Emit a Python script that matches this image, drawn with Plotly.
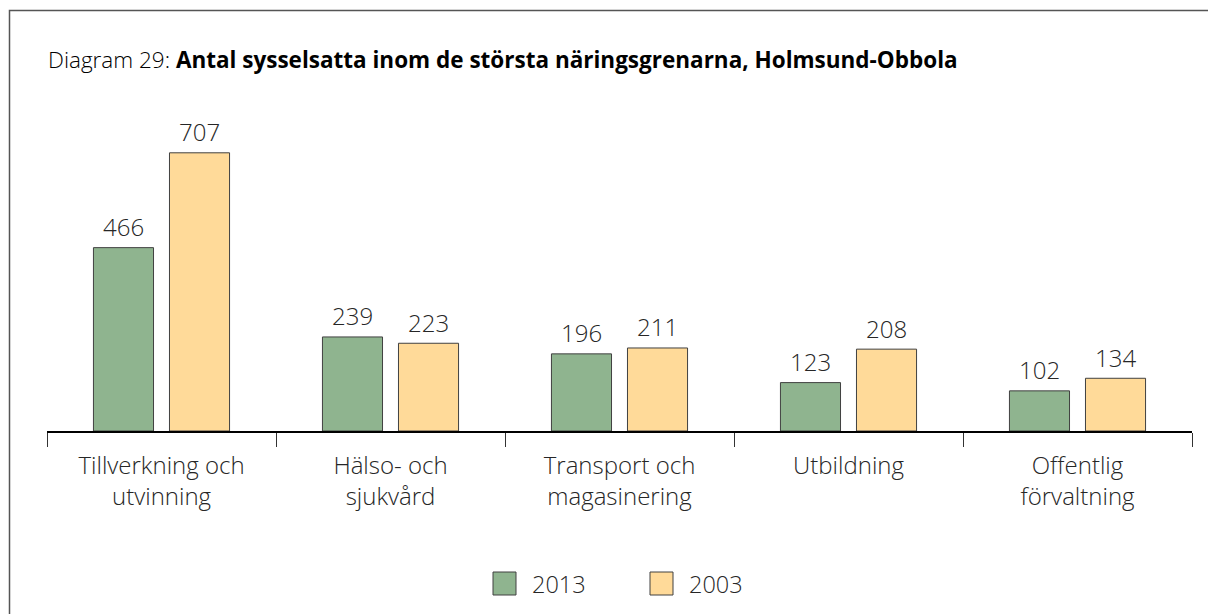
import plotly.graph_objects as go

categories = ["Tillverkning och<br>utvinning", "Hälso- och<br>sjukvård", "Transport och<br>magasinering",
              "Utbildning", "Offentlig<br>förvaltning"]
series_names = ["2013", "2003"]
values_2013 = [466, 239, 196, 123, 102]
values_2003 = [707, 223, 211, 208, 134]
colors = ["#8FB48F", "#FFDA99"]
title_prefix = "Diagram 29: "
title_main = "Antal sysselsatta inom de största näringsgrenarna, Holmsund-Obbola"

W, H = 1208, 614
L, R, T, B = 47, 16, 100, 183
pw, ph = W - L - R, H - T - B

def px_to_paper_x(x):
    return (x - L) / pw

def px_to_paper_y(y):
    return (H - B - y) / ph

FONT = "Open Sans"
TXT = "#262626"
FS = 24

fig = go.Figure()
for name, vals, col in zip(series_names, [values_2013, values_2003], colors):
    fig.add_trace(go.Bar(
        x=categories, y=vals, name=name,
        marker=dict(color=col, line=dict(color="#404040", width=1)),
        cliponaxis=False, showlegend=False,
    ))

# data labels, positioned on the data scales
for vals, xs in zip([values_2013, values_2003], [-38, 38]):
    for c, v in zip(categories, vals):
        fig.add_annotation(x=c, y=v, xref="x", yref="y", xshift=xs, yshift=21,
                           yanchor="middle", showarrow=False, text=str(v),
                           font=dict(family=FONT, size=FS, color=TXT, weight=300))

fig.update_layout(
    width=W, height=H,
    margin=dict(l=L, r=R, t=T, b=B, autoexpand=False),
    paper_bgcolor="white", plot_bgcolor="white",
    barmode="group", bargap=0.336, bargroupgap=0.21,
    font=dict(family=FONT, size=FS, color=TXT),
    xaxis=dict(
        type="category", showline=True, linecolor="black", linewidth=2,
        ticks="outside", tickson="boundaries", ticklen=14, tickcolor="#333",
        tickwidth=1, tickfont=dict(family=FONT, size=FS, color=TXT, weight=300),
        ticklabelstandoff=12,
        showgrid=False, zeroline=False,
    ),
    yaxis=dict(range=[0, ph / 0.3935], visible=False, showgrid=False, zeroline=False),
    showlegend=False,
)

# frame
fig.add_shape(type="rect", xref="paper", yref="paper",
              x0=px_to_paper_x(9.5), x1=px_to_paper_x(1230), y0=px_to_paper_y(640), y1=px_to_paper_y(10.5),
              line=dict(color="#555", width=1.5), fillcolor="rgba(0,0,0,0)", layer="below")

# title
fig.add_annotation(xref="paper", yref="paper", x=px_to_paper_x(46), y=px_to_paper_y(60),
                   xanchor="left", yanchor="middle", showarrow=False,
                   text='<span style="font-weight:300">' + title_prefix + "</span><b>" + title_main + "</b>",
                   font=dict(family=FONT, size=22.5, color="black"))

# legend
leg_x = [493, 650]
for name, col, x in zip(series_names, colors, leg_x):
    fig.add_shape(type="rect", xref="paper", yref="paper",
                  x0=px_to_paper_x(x), x1=px_to_paper_x(x + 23),
                  y0=px_to_paper_y(595), y1=px_to_paper_y(572),
                  fillcolor=col, line=dict(color="#404040", width=1))
    fig.add_annotation(xref="paper", yref="paper", x=px_to_paper_x(x + 37), y=px_to_paper_y(584),
                       xanchor="left", yanchor="middle", showarrow=False, text=name,
                       font=dict(family=FONT, size=23.5, color=TXT, weight=300))

fig.write_html("out.html", config={"displayModeBar": False},
               post_script="document.body.style.margin='0';document.body.style.overflow='hidden';")
